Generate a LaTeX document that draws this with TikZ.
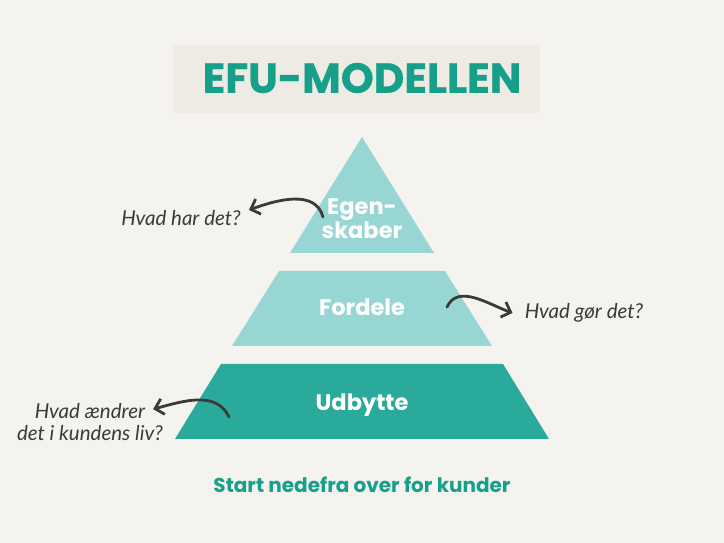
\documentclass[tikz,border=0pt]{standalone}
\usepackage{fontspec}
\setmainfont{Poppins}
\newfontfamily\handfont{Lato}
\usepackage{xcolor}
\usetikzlibrary{positioning,arrows.meta}
\definecolor{bgc}{HTML}{F5F3EF}
\definecolor{boxc}{HTML}{EDEBE3}
\definecolor{titlec}{HTML}{16A08A}
\definecolor{lightteal}{HTML}{98D6D3}
\definecolor{darkteal}{HTML}{2AAA9A}
\definecolor{inkgray}{HTML}{3A3A3A}
\tikzset{
  lbl/.style={text=white,font=\bfseries\fontsize{22.5}{24}\selectfont,align=center},
  hand/.style={text=inkgray,font=\handfont\itshape\fontsize{20.5}{22}\selectfont,align=center,inner sep=2pt},
  curly/.style={draw=inkgray,line width=2.8pt,line cap=round,-{Straight Barb[length=8pt,width=16pt]}}
}
\begin{document}
\begin{tikzpicture}[x=1pt,y=1pt]
\fill[bgc] (0,0) rectangle (724,543);
\useasboundingbox (0,0) rectangle (724,543);
\fill[boxc] (173,430) rectangle (540,498);
\node[text=titlec,font=\bfseries\fontsize{42}{46}\selectfont\addfontfeature{FakeBold=0.6}] (title) at (362,465) {EFU-MODELLEN};

% pyramid
\fill[lightteal] (362,406) -- (434,290) -- (290,290) -- cycle;
\fill[lightteal] (279,272) -- (445,272) -- (492,197) -- (232,197) -- cycle;
\fill[darkteal] (221,179) -- (503,179) -- (549,104) -- (175,104) -- cycle;

\node[lbl] (egen) at (362,324) {Egen-\\skaber};
\node[lbl] (fordele) at (362,236) {Fordele};
\node[lbl] (udbytte) at (362,138) {Udbytte};

\node[text=titlec,font=\bfseries\fontsize{20}{24}\selectfont] (start) at (362,58) {Start nedefra over for kunder};

% questions
\node[hand] (q1) at (181,325) {Hvad har det?};
\node[hand] (q2) at (584,230) {Hvad gør det?};
\node[hand] (q3) at (90,121) {Hvad ændrer\\det i kundens liv?};

\coordinate (s1) at (323,326);
\coordinate (s2) at (447,236);
\coordinate (s3) at (229,126);

\draw[curly] (s1) to[out=105,in=20] ([shift={(6,8)}]q1.east);
\draw[curly] (s2) to[out=65,in=160] ([xshift=-10pt]q2.west);
\draw[curly] (s3) to[out=115,in=15] ([shift={(-12,-8)}]q3.north east);
\end{tikzpicture}
\end{document}
